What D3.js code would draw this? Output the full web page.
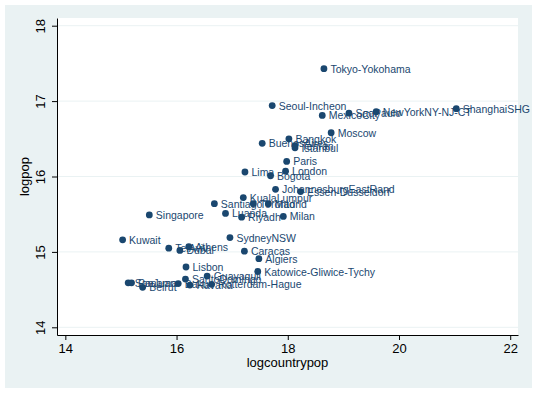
<!DOCTYPE html>
<html>
<head>
<meta charset="utf-8">
<script src="https://cdn.jsdelivr.net/npm/d3@7"></script>
<style>
    body { margin: 0; background: #fff; }
    text { font-family: "Liberation Sans", Arial, sans-serif; }
</style>
</head>
<body>
<div id="chart"></div>
<script>
'use strict';

// city names
const cities = [
    "Tokyo-Yokohama", "ShanghaiSHG", "Seoul-Incheon", "MexicoCity", "SaoPaulo",
    "NewYorkNY-NJ-CT", "Moscow", "Bangkok", "BuenosAires", "Tehran",
    "Istanbul", "Paris", "London", "Lima", "Bogota",
    "JohannesburgEastRand", "Essen-Dusseldorf", "KualaLumpur", "Santiago", "Toronto",
    "Madrid", "Luanda", "Riyadh", "Milan", "Singapore",
    "Kuwait", "SydneyNSW", "TelAviv", "Dubai", "Athens",
    "Caracas", "Algiers", "Lisbon", "Katowice-Gliwice-Tychy", "Guayaquil",
    "SantoDomingo", "SanJuan", "Panama", "Beirut", "Baku",
    "Havana", "Rotterdam-Hague"
];

const logcountrypop = [
    18.65, 21.03, 17.72, 18.62, 19.10,
    19.59, 18.78, 18.02, 17.54, 18.13,
    18.13, 17.98, 17.96, 17.23, 17.69,
    17.78, 18.23, 17.20, 16.68, 17.38,
    17.65, 16.88, 17.17, 17.92, 15.51,
    15.03, 16.96, 15.86, 16.06, 16.22,
    17.22, 17.48, 16.17, 17.46, 16.55,
    16.16, 15.13, 15.19, 15.39, 16.03,
    16.24, 16.63
];

const logpop = [
    17.43, 16.90, 16.94, 16.81, 16.84,
    16.86, 16.58, 16.50, 16.44, 16.41,
    16.38, 16.20, 16.07, 16.06, 16.01,
    15.83, 15.80, 15.72, 15.64, 15.64,
    15.64, 15.51, 15.46, 15.47, 15.49,
    15.16, 15.19, 15.05, 15.02, 15.07,
    15.01, 14.91, 14.80, 14.74, 14.68,
    14.64, 14.59, 14.59, 14.53, 14.58,
    14.56, 14.57
];

const xTicks = [14, 16, 18, 20, 22];
const yTicks = [14, 15, 16, 17, 18];

const W = 537, H = 393;
const plot = {left: 57, right: 518, top: 18, bottom: 335};
const navy = "#1a476f";
const bgColor = "#eaf2f3";

const data = cities.map((c, i) => ({name: c, x: logcountrypop[i], y: logpop[i]}));

const svg = d3.select('#chart').append('svg')
    .attr('width', W)
    .attr('height', H);

// stata style outer panel + white plot region
svg.append('rect')
    .attr('x', 5).attr('y', 5)
    .attr('width', W - 10).attr('height', H - 10)
    .attr('fill', bgColor);

svg.append('rect')
    .attr('x', plot.left).attr('y', plot.top)
    .attr('width', plot.right - plot.left).attr('height', plot.bottom - plot.top)
    .attr('fill', '#fff');

const xScale = d3.scaleLinear().domain([13.85, 22.14]).range([plot.left, plot.right]);
const yScale = d3.scaleLinear().domain([13.898, 18.102]).range([plot.bottom, plot.top]);

// horizontal grid
svg.append('g').selectAll('line')
    .data(yTicks)
    .enter()
    .append('line')
    .attr('x1', plot.left).attr('x2', plot.right)
    .attr('y1', d => yScale(d)).attr('y2', d => yScale(d))
    .attr('stroke', bgColor)
    .attr('stroke-width', 1);

const fmt = d3.format('d');
const xAxis = d3.axisBottom(xScale).tickValues(xTicks).tickFormat(fmt).tickSize(5).tickSizeOuter(0).tickPadding(4);
const yAxis = d3.axisLeft(yScale).tickValues(yTicks).tickFormat(fmt).tickSize(5).tickSizeOuter(0);

const xAxisGroup = svg.append('g')
    .attr('transform', 'translate(0,' + plot.bottom + ')')
    .call(xAxis);
xAxisGroup.selectAll('text')
    .attr('font-size', 13)
    .attr('font-family', '"Liberation Sans", Arial, sans-serif')
    .attr('fill', '#000');

const yAxisGroup = svg.append('g')
    .attr('transform', 'translate(' + plot.left + ',0)')
    .call(yAxis);
yAxisGroup.selectAll('text')
    .attr('transform', 'rotate(-90)')
    .attr('x', 0)
    .attr('y', -12)
    .attr('dy', 0)
    .attr('text-anchor', 'middle')
    .attr('font-size', 13)
    .attr('font-family', '"Liberation Sans", Arial, sans-serif')
    .attr('fill', '#000');

svg.selectAll('.domain, .tick line').attr('stroke', '#000');

// axis titles
svg.append('text')
    .attr('x', (plot.left + plot.right) / 2)
    .attr('y', 367)
    .attr('text-anchor', 'middle')
    .attr('font-size', 13)
    .text('logcountrypop');

svg.append('text')
    .attr('transform', 'translate(29,' + (plot.top + plot.bottom) / 2 + ') rotate(-90)')
    .attr('text-anchor', 'middle')
    .attr('font-size', 13)
    .text('logpop');

// markers + labels
const pts = svg.append('g');

pts.selectAll('circle')
    .data(data)
    .enter()
    .append('circle')
    .attr('cx', d => xScale(d.x))
    .attr('cy', d => yScale(d.y))
    .attr('r', 3.4)
    .attr('fill', navy);

pts.selectAll('text')
    .data(data)
    .enter()
    .append('text')
    .attr('x', d => xScale(d.x) + 6.5)
    .attr('y', d => yScale(d.y) + 4)
    .attr('font-size', 10.5)
    .attr('fill', navy)
    .text(d => d.name);
</script>
</body>
</html>
